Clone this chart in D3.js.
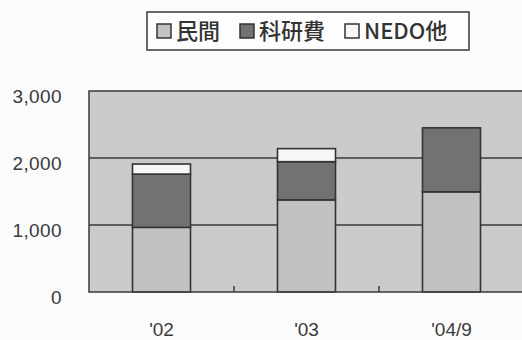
<!DOCTYPE html>
<html>
<head>
<meta charset="utf-8">
<script src="https://cdn.jsdelivr.net/npm/d3@7"></script>
<style>
  html, body { margin: 0; padding: 0; background: #fbfbfb; }
  svg { display: block; }
</style>
</head>
<body>
<svg id="chart" width="522" height="340"></svg>
<script>
// Research funding by source (stacked), in units as labelled on the axis
const categories = ["'02", "'03", "'04/9"];
const seriesNames = ["民間", "科研費", "NEDO他"];
const minkan = [965, 1375, 1495];
const kakenhi = [795, 570, 955];
const nedo = [150, 195, 0];
const yTicks = [0, 1000, 2000, 3000];

const colors = { "民間": "#c2c2c2", "科研費": "#727272", "NEDO他": "#f7f7f7" };

const rows = categories.map((c, i) => ({
  cat: c, "民間": minkan[i], "科研費": kakenhi[i], "NEDO他": nedo[i]
}));

const svg = d3.select("#chart");
const plot = { left: 89, top: 91, right: 524, bottom: 292 };

const x = d3.scaleBand()
  .domain(categories)
  .range([plot.left, plot.right])
  .paddingInner(0.6)
  .paddingOuter(0.3);

const y = d3.scaleLinear()
  .domain([0, 3000])
  .range([plot.bottom, plot.top]);

// plot background
svg.append("rect")
  .attr("x", plot.left).attr("y", plot.top)
  .attr("width", plot.right - plot.left).attr("height", plot.bottom - plot.top)
  .attr("fill", "#cbcbcb");

// horizontal gridlines
svg.append("g")
  .selectAll("line")
  .data(yTicks.filter(d => d > 0 && d < 3000))
  .join("line")
  .attr("x1", plot.left).attr("x2", plot.right)
  .attr("y1", d => y(d)).attr("y2", d => y(d))
  .attr("stroke", "#3a3a3a").attr("stroke-width", 1.6);

// stacked bars
const stack = d3.stack().keys(seriesNames)(rows);
svg.append("g")
  .selectAll("g")
  .data(stack)
  .join("g")
  .attr("fill", d => colors[d.key])
  .selectAll("rect")
  .data(d => d.filter(s => s[1] - s[0] > 0))
  .join("rect")
  .attr("x", d => x(d.data.cat))
  .attr("y", d => y(d[1]))
  .attr("width", x.bandwidth())
  .attr("height", d => y(d[0]) - y(d[1]))
  .attr("stroke", "#333")
  .attr("stroke-width", 1.6);

// plot frame
svg.append("rect")
  .attr("x", plot.left).attr("y", plot.top)
  .attr("width", plot.right - plot.left).attr("height", plot.bottom - plot.top)
  .attr("fill", "none")
  .attr("stroke", "#444").attr("stroke-width", 1.6);

// category separator ticks on the baseline
const step = x.step();
svg.append("g")
  .selectAll("line")
  .data(categories.slice(1))
  .join("line")
  .attr("x1", c => x(c) - (step - x.bandwidth()) / 2)
  .attr("x2", c => x(c) - (step - x.bandwidth()) / 2)
  .attr("y1", plot.bottom).attr("y2", plot.bottom - 6)
  .attr("stroke", "#333").attr("stroke-width", 1.4);

// y axis labels
const yAxis = d3.axisLeft(y)
  .tickValues(yTicks)
  .tickSize(0)
  .tickPadding(27)
  .tickFormat(d3.format(","));
const yg = svg.append("g")
  .attr("transform", `translate(${plot.left},0)`)
  .call(yAxis);
yg.select(".domain").remove();
yg.selectAll("text")
  .attr("dy", "0.62em")
  .attr("font-family", "Liberation Sans, Arial, sans-serif")
  .attr("font-size", 19)
  .attr("letter-spacing", 0.4)
  .attr("fill", "#3a3a3a");

// x axis labels
const xAxis = d3.axisBottom(x).tickSize(0).tickPadding(31);
const xg = svg.append("g")
  .attr("transform", `translate(0,${plot.bottom})`)
  .call(xAxis);
xg.select(".domain").remove();
xg.selectAll("text")
  .attr("font-family", "Liberation Sans, Arial, sans-serif")
  .attr("font-size", 19)
  .attr("fill", "#3a3a3a");

// legend
const legend = svg.append("g");
legend.append("rect")
  .attr("x", 147).attr("y", 12)
  .attr("width", 322).attr("height", 38)
  .attr("fill", "#fdfdfd")
  .attr("stroke", "#444").attr("stroke-width", 1.6);

const legendX = [157, 240, 345];
const items = legend.selectAll("g.item")
  .data(seriesNames)
  .join("g")
  .attr("class", "item")
  .attr("transform", (d, i) => `translate(${legendX[i]},24)`);
items.append("rect")
  .attr("width", 14).attr("height", 14)
  .attr("fill", d => colors[d])
  .attr("stroke", "#333").attr("stroke-width", 1.5);
items.append("text")
  .attr("x", 19).attr("y", 15)
  .attr("font-family", "Noto Sans CJK JP, sans-serif")
  .attr("font-size", 22)
  .attr("font-weight", 500)
  .attr("fill", "#333")
  .text(d => d);
</script>
</body>
</html>
